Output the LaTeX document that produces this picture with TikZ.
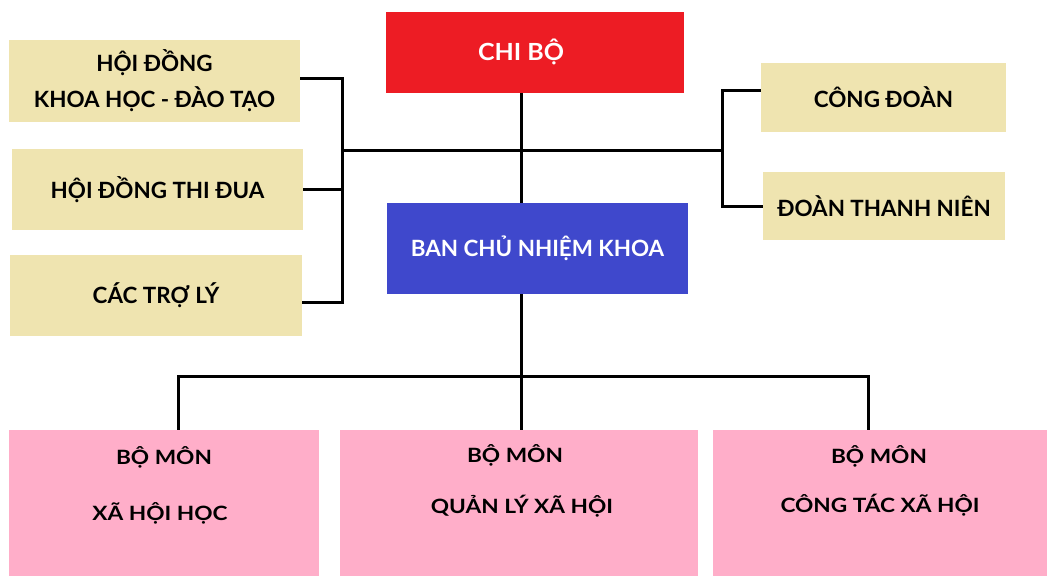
\documentclass[tikz,border=0pt]{standalone}
\usepackage{fontspec}
\setmainfont{Lato}
\newfontfamily\widefont{Lato}
\newfontfamily\headfont[FakeStretch=1.06]{Lato}
\newfontfamily\deptfont[FakeStretch=1.15]{Lato}
\usetikzlibrary{calc}

\definecolor{partyred}{HTML}{ED1C24}
\definecolor{boardblue}{HTML}{3F48CC}
\definecolor{councilbeige}{HTML}{EFE4B0}
\definecolor{deptpink}{HTML}{FFAEC9}

\tikzset{
  box/.style={inner sep=0pt, font=\widefont\fontsize{22.4}{36}\selectfont\bfseries, align=center},
  council/.style={box, fill=councilbeige},
  dept/.style={fill=deptpink, inner sep=0pt, minimum height=146pt},
  depttext/.style={font=\deptfont\fontsize{19.7}{26}\selectfont\bfseries},
  link/.style={line width=3pt}
}

\begin{document}
\begin{tikzpicture}[x=1pt,y=-1pt]

\useasboundingbox (0,0) rectangle (1047,576);

% Top boxes
\node[box, fill=partyred, minimum width=298pt, minimum height=81pt] (chibo) at (535,52.5) {};
\node[box, text=white, font=\headfont\fontsize{23.6}{30}\selectfont\bfseries] at (521,52) {CHI BỘ};
\node[box, fill=boardblue, text=white, minimum width=301pt, minimum height=91pt] (bcn) at (537.5,248.5) {BAN CHỦ NHIỆM KHOA};

% Left councils
\node[council, minimum width=291pt, minimum height=82pt] (hdkh) at (154.5,81) {HỘI ĐỒNG\\KHOA HỌC - ĐÀO TẠO};
\node[council, minimum width=291pt, minimum height=81pt] (hdtd) at (157.5,189.5) {HỘI ĐỒNG THI ĐUA};
\node[council, minimum width=292pt, minimum height=81pt] (trly) at (156,295.5) {CÁC TRỢ LÝ};

% Right unions
\node[council, minimum width=245pt, minimum height=69pt] (cdoan) at (883.5,97.5) {CÔNG ĐOÀN};
\node[council, minimum width=242pt, minimum height=68pt] (dtn) at (884,206) {ĐOÀN THANH NIÊN};

% Departments
\node[dept, minimum width=310pt] (bmxhh) at (164,503) {};
\node[dept, minimum width=358pt] (bmql) at (519,503) {};
\node[dept, minimum width=334pt] (bmct) at (880,503) {};
\node[depttext] at (164,457) {BỘ MÔN};
\node[depttext] at (160,513) {XÃ HỘI HỌC};
\node[depttext] at (515,455) {BỘ MÔN};
\node[depttext] at (522,506) {QUẢN LÝ XÃ HỘI};
\node[depttext] at (879,456) {BỘ MÔN};
\node[depttext] at (880,505) {CÔNG TÁC XÃ HỘI};

% Junction points
\coordinate (spine) at (521,0);
\coordinate (lbar) at (342,150);
\coordinate (rbar) at (722,150);
\coordinate (dleft) at (178,376);
\coordinate (dright) at (868,376);

% Connectors
\draw[link] (chibo.south -| spine) -- (bcn.north -| spine);
\draw[link] (lbar) -- (rbar);
\draw[link] ([yshift=3pt]hdkh.east) -- ([yshift=3pt]hdkh.east -| lbar) -- ([yshift=-7pt]trly.east -| lbar) -- ([yshift=-7pt]trly.east);
\draw[link] (hdtd.east) -- (hdtd.east -| lbar);
\draw[link] ([yshift=7pt]cdoan.west) -- ([yshift=7pt]cdoan.west -| rbar) -- (dtn.west -| rbar) -- (dtn.west);
\draw[link] (bcn.south -| spine) -- (bmql.north -| spine);
\draw[link] (dleft |- bmxhh.north) -- (dleft) -- (dright) -- (dright |- bmct.north);

\end{tikzpicture}
\end{document}
